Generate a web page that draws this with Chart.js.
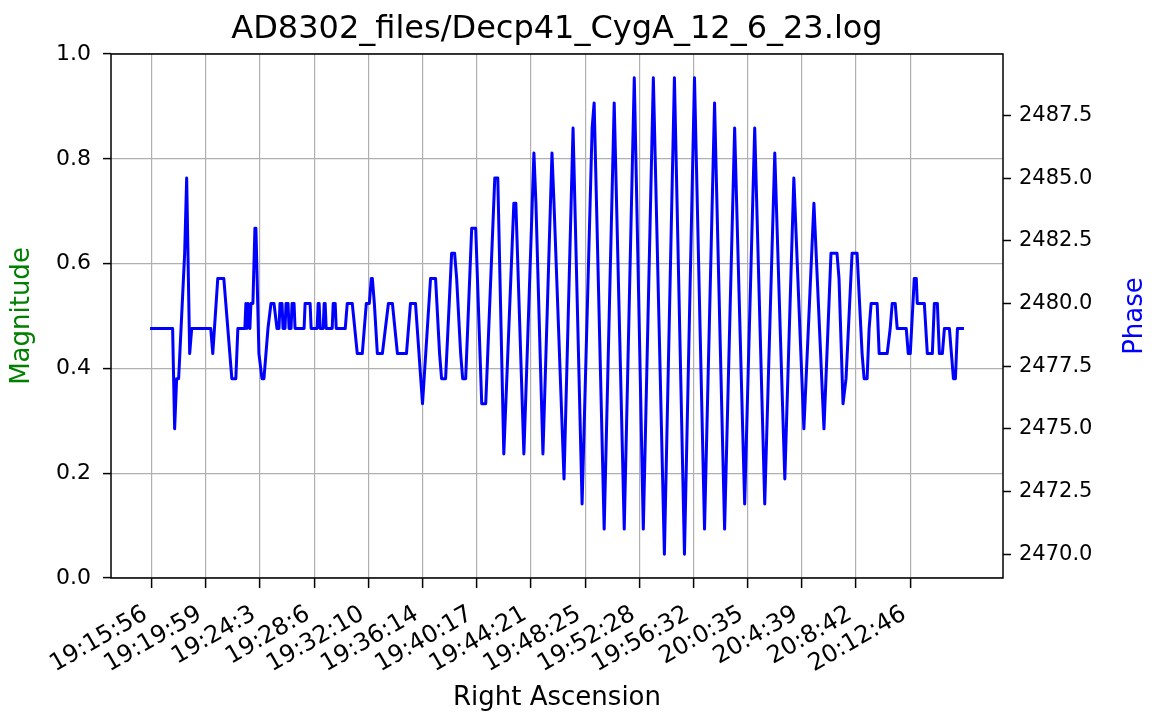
<!DOCTYPE html>
<html>
<head>
<meta charset="utf-8">
<script src="https://cdn.jsdelivr.net/npm/chart.js@4.4.0/dist/chart.umd.min.js"></script>
<style>
  html, body { margin: 0; padding: 0; background: #ffffff; }
  #wrap { width: 1157px; height: 717px; }
</style>
</head>
<body>
<div id="wrap"><canvas id="chart" width="1157" height="717"></canvas></div>
<script>
// Right-ascension labels, one every 54 samples
const timeLabels = ['19:15:56', '19:19:59', '19:24:3', '19:28:6', '19:32:10', '19:36:14', '19:40:17',
  '19:44:21', '19:48:25', '19:52:28', '19:56:32', '20:0:35', '20:4:39', '20:8:42', '20:12:46'];
const tickSamples = [0, 54, 108, 162, 216, 270, 324, 378, 432, 486, 540, 594, 648, 702, 756];

// Phase log: sample number and phase reading at each turning point of the trace
const phaseSample = [
  0, 21, 23, 25, 27, 33, 35, 38, 40, 59, 61, 66, 72, 80, 84, 86, 93, 94, 95, 96, 98, 99, 101, 103, 104,
  107, 110, 112, 116, 119, 122, 125, 127, 128, 130, 131, 133, 134, 136, 137, 139, 140, 142, 143,
  152, 153, 158, 159, 165, 166, 167, 168, 171, 172, 173, 174, 180, 181, 183, 184, 193, 195, 200,
  205, 210, 214, 217, 219, 220, 222, 225, 230, 236, 240, 245, 254, 258, 263, 270, 278, 283,
  287, 289, 293, 299, 302, 304, 308, 310, 313, 319, 323, 329, 333, 335, 342, 345, 351, 361, 363,
  371, 381, 383, 390, 399, 401, 411, 420, 429, 439, 441, 451, 461, 471, 481, 490, 500, 511, 521,
  531, 541, 551, 561, 571, 581, 591, 601, 611, 621, 631, 640, 650, 660, 670, 677, 683, 685, 689,
  692, 698, 703, 708, 710, 713, 715, 717, 723, 725, 733, 736, 738, 741, 743, 752, 754, 756, 760,
  762, 763, 770, 773, 778, 780, 783, 785, 788, 790, 795, 799, 801, 803, 808
];
const phaseValue = [
  2479, 2479, 2475, 2477, 2477, 2482, 2485, 2478, 2479, 2479, 2478, 2481, 2481, 2477, 2477, 2479, 2479, 2480, 2479, 2480, 2479, 2480, 2480, 2483, 2483,
  2478, 2477, 2477, 2479, 2480, 2480, 2479, 2479, 2480, 2480, 2479, 2479, 2480, 2480, 2479, 2479, 2480, 2480, 2479,
  2479, 2480, 2480, 2479, 2479, 2480, 2480, 2479, 2479, 2480, 2480, 2479, 2479, 2480, 2480, 2479, 2479, 2480, 2480,
  2478, 2478, 2480, 2480, 2481, 2481, 2480, 2478, 2478, 2480, 2480, 2478, 2478, 2480, 2480, 2476, 2481, 2481,
  2478, 2477, 2477, 2482, 2482, 2481, 2478, 2477, 2477, 2483, 2483, 2476, 2476, 2478, 2485, 2485, 2474, 2484, 2484,
  2474, 2486, 2484, 2474, 2486, 2484, 2473, 2487, 2472, 2487, 2488, 2471, 2488, 2471, 2489, 2471, 2489, 2470, 2489,
  2470, 2489, 2471, 2488, 2471, 2487, 2472, 2487, 2472, 2486, 2473, 2485, 2475, 2484, 2475, 2482, 2482, 2481, 2476,
  2477, 2482, 2482, 2478, 2477, 2477, 2479, 2480, 2480, 2478, 2478, 2479, 2480, 2480, 2479, 2479, 2478, 2478, 2481,
  2481, 2480, 2480, 2478, 2478, 2480, 2480, 2478, 2478, 2479, 2479, 2477, 2477, 2479, 2479
];

// Axis limits
const sampleMin = -40.4, sampleMax = 848.4;
const phaseMin = 2469.05, phaseMax = 2489.95;
const magnitudeMin = 0, magnitudeMax = 1;

const FONT = '"DejaVu Sans", "Liberation Sans", sans-serif';
const GRID = '#b0b0b0';

const points = phaseSample.map((s, i) => ({ x: s, y: phaseValue[i] }));

// Black box round the plotting area
const frame = {
  id: 'frame',
  afterDatasetsDraw(chart) {
    const { ctx, chartArea: a } = chart;
    ctx.save();
    ctx.strokeStyle = '#000000';
    ctx.lineWidth = 1.5;
    ctx.strokeRect(a.left, a.top, a.right - a.left, a.bottom - a.top);
    ctx.restore();
  }
};

// Right-hand axis label, reading bottom to top
const phaseLabel = {
  id: 'phaseLabel',
  afterDraw(chart) {
    const { ctx, chartArea: a } = chart;
    ctx.save();
    ctx.translate(chart.width - 22, (a.top + a.bottom) / 2);
    ctx.rotate(-Math.PI / 2);
    ctx.font = '26px ' + FONT;
    ctx.fillStyle = '#0000ff';
    ctx.textAlign = 'center';
    ctx.textBaseline = 'middle';
    ctx.fillText('Phase', 0, 0);
    ctx.restore();
  }
};

new Chart(document.getElementById('chart'), {
  type: 'line',
  data: {
    datasets: [{
      label: 'Phase',
      data: points,
      xAxisID: 'x',
      yAxisID: 'phase',
      borderColor: '#0000ff',
      borderWidth: 3,
      borderJoinStyle: 'round',
      borderCapStyle: 'square',
      pointRadius: 0,
      fill: false,
      tension: 0
    }]
  },
  options: {
    responsive: false,
    animation: false,
    devicePixelRatio: 1,
    layout: { padding: 0 },
    plugins: {
      legend: { display: false },
      tooltip: { enabled: false },
      title: {
        display: true,
        fullSize: false,
        text: 'AD8302_files/Decp41_CygA_12_6_23.log',
        color: '#000000',
        font: { family: FONT, size: 32, weight: 'normal' },
        padding: { top: 10, bottom: 5.6 }
      }
    },
    scales: {
      x: {
        type: 'linear',
        position: 'bottom',
        min: sampleMin,
        max: sampleMax,
        afterBuildTicks: s => { s.ticks = tickSamples.map(v => ({ value: v })); },
        afterFit: s => { s.height = 139; },
        ticks: {
          autoSkip: false,
          minRotation: 30,
          maxRotation: 30,
          padding: 12,
          labelOffset: -6,
          color: '#000000',
          font: { family: FONT, size: 24 },
          callback: v => timeLabels[tickSamples.indexOf(v)]
        },
        grid: { color: GRID, lineWidth: 1.2, tickColor: '#000000', tickLength: 10, tickWidth: 1.5 },
        border: { display: false },
        title: {
          display: true,
          text: 'Right Ascension',
          color: '#000000',
          font: { family: FONT, size: 26 },
          padding: { top: 0, bottom: 3 }
        }
      },
      magnitude: {
        type: 'linear',
        position: 'left',
        min: magnitudeMin,
        max: magnitudeMax,
        afterFit: s => { s.width = 111; },
        ticks: {
          stepSize: 0.2,
          padding: 12,
          color: '#000000',
          font: { family: FONT, size: 22 },
          callback: v => v.toFixed(1)
        },
        grid: { color: GRID, lineWidth: 1.2, tickColor: '#000000', tickLength: 8, tickWidth: 1.5 },
        border: { display: false },
        title: {
          display: true,
          text: 'Magnitude',
          color: '#008000',
          font: { family: FONT, size: 26 },
          padding: { top: 7, bottom: 0 }
        }
      },
      phase: {
        type: 'linear',
        position: 'right',
        min: phaseMin,
        max: phaseMax,
        afterFit: s => { s.width = 154; },
        ticks: {
          stepSize: 2.5,
          includeBounds: false,
          padding: 8,
          color: '#000000',
          font: { family: FONT, size: 21 },
          callback: v => v.toFixed(1)
        },
        grid: { drawOnChartArea: false, tickColor: '#000000', tickLength: 8, tickWidth: 1.5 },
        border: { display: false }
      }
    }
  },
  plugins: [frame, phaseLabel]
});
</script>
</body>
</html>
